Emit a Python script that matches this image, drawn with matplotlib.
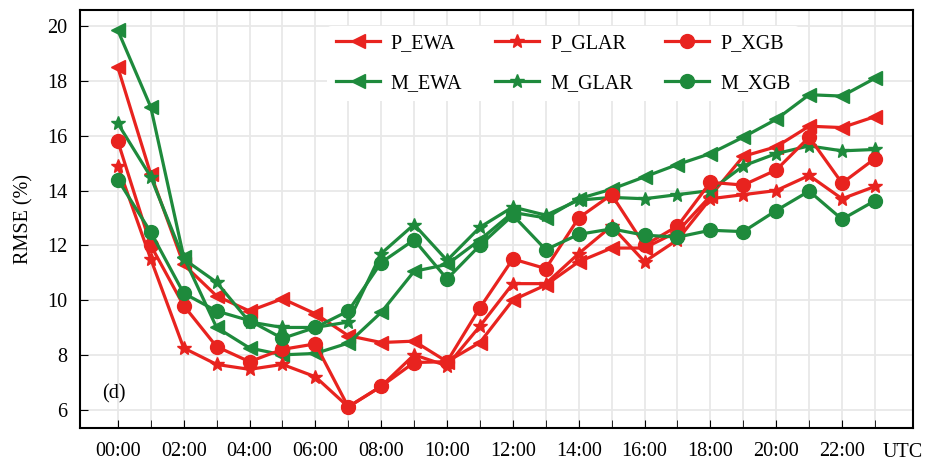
import numpy as np
import matplotlib
matplotlib.use("Agg")
import matplotlib.pyplot as plt

plt.rcParams['font.family'] = ['Liberation Serif', 'DejaVu Serif']

hours = list(range(24))
tick_labels = [f"{h:02d}:00" for h in range(0, 24, 2)]

# RMSE (%) per hour
p_ewa = [18.5, 14.6, 11.3, 10.15, 9.6, 10.05, 9.5, 8.7, 8.45, 8.5, 7.75, 8.45,
         10.0, 10.55, 11.4, 11.9, 11.9, 12.5, 13.8, 15.25, 15.6, 16.35, 16.3, 16.7]
p_glar = [14.9, 11.5, 8.25, 7.65, 7.47, 7.65, 7.2, 6.1, 6.85, 8.0, 7.6, 9.05,
          10.6, 10.6, 11.7, 12.7, 11.4, 12.2, 13.7, 13.85, 14.0, 14.55, 13.7, 14.15]
p_xgb = [15.8, 12.0, 9.8, 8.3, 7.75, 8.2, 8.4, 6.1, 6.85, 7.72, 7.75, 9.72,
         11.5, 11.15, 13.0, 13.85, 12.0, 12.7, 14.3, 14.2, 14.75, 15.95, 14.27, 15.17]
m_ewa = [19.85, 17.05, 11.58, 9.0, 8.25, 8.0, 8.05, 8.43, 9.55, 11.05, 11.3, 12.2,
         13.2, 13.0, 13.7, 14.05, 14.5, 14.95, 15.35, 15.95, 16.6, 17.5, 17.45, 18.1]
m_glar = [16.45, 14.5, 11.5, 10.65, 9.2, 9.0, 9.0, 9.2, 11.7, 12.76, 11.45, 12.66,
          13.4, 13.1, 13.65, 13.75, 13.7, 13.85, 14.0, 14.9, 15.35, 15.63, 15.45, 15.5]
m_xgb = [14.4, 12.48, 10.25, 9.6, 9.25, 8.6, 9.0, 9.6, 11.37, 12.2, 10.77, 12.0,
         13.1, 11.84, 12.4, 12.6, 12.37, 12.3, 12.55, 12.5, 13.27, 13.98, 12.95, 13.63]

RED = "#e8231f"
GREEN = "#1e8a3c"
FS = 14.5

fig = plt.figure(figsize=(9.28, 4.68), dpi=100)
ax = fig.add_axes([0.086, 0.085, 0.898, 0.894])

lw = 2.3
ax.plot(hours, p_ewa, color=RED, lw=lw, marker="<", ms=10, label="P_EWA")
ax.plot(hours, m_ewa, color=GREEN, lw=lw, marker="<", ms=10, label="M_EWA")
ax.plot(hours, p_glar, color=RED, lw=lw, marker="*", ms=10, label="P_GLAR")
ax.plot(hours, m_glar, color=GREEN, lw=lw, marker="*", ms=10, label="M_GLAR")
ax.plot(hours, p_xgb, color=RED, lw=lw, marker="o", ms=10, label="P_XGB")
ax.plot(hours, m_xgb, color=GREEN, lw=lw, marker="o", ms=10, label="M_XGB")

ax.set_xlim(-1.155, 24.16)
ax.set_ylim(5.32, 20.6)
ax.set_xticks(hours, minor=True)
ax.set_xticks(range(0, 24, 2))
ax.set_xticklabels(tick_labels)
ax.set_yticks(range(6, 21, 2))
ax.tick_params(axis="both", which="both", direction="in", labelsize=FS)
ax.tick_params(axis="x", which="major", length=6, pad=10)
ax.tick_params(axis="x", which="minor", length=6)
ax.tick_params(axis="y", length=6, pad=9)
ax.text(23.85, -0.035, "UTC", transform=ax.get_xaxis_transform(),
        ha="center", va="top", fontsize=FS)

ax.grid(True, which="both", color="#e8e8e8", lw=1.3)
ax.grid(False, which="minor", axis="y")
ax.set_axisbelow(True)
for s in ax.spines.values():
    s.set_linewidth(1.5)

ax.set_ylabel("RMSE (%)", fontsize=FS, labelpad=10)
ax.text(0.027, 0.082, "(d)", transform=ax.transAxes, fontsize=FS, va="center")

leg = ax.legend(ncol=3, loc="upper center", bbox_to_anchor=(0.58, 0.962),
                fontsize=FS, frameon=True, framealpha=1, edgecolor="none",
                facecolor="white", handlelength=2.2, handletextpad=0.55,
                columnspacing=1.6, labelspacing=1.05, borderaxespad=0)

fig.savefig("out.png", dpi=100)
